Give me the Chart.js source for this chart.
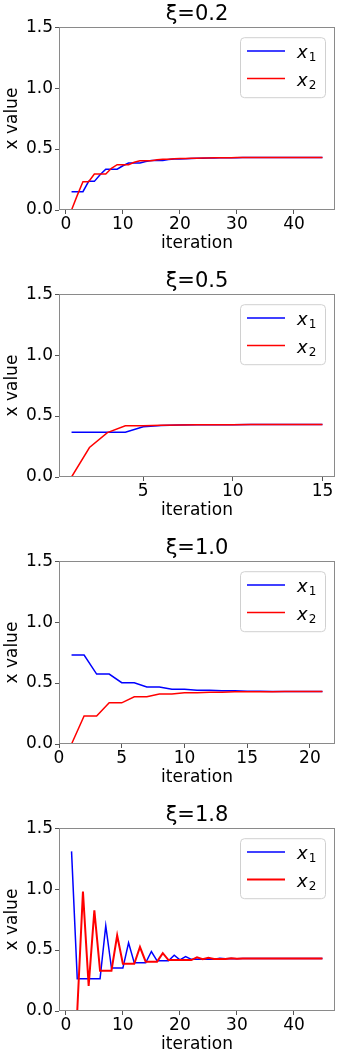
<!DOCTYPE html>
<html>
<head>
<meta charset="utf-8">
<script src="https://cdn.jsdelivr.net/npm/chart.js@4.4.1/dist/chart.umd.min.js"></script>
<style>
  html, body { margin: 0; padding: 0; background: #fff; overflow: hidden; }
  .panel { position: absolute; left: 0; width: 340px; height: 267px; }
  canvas { display: block; }
</style>
</head>
<body>
<div class="panel" style="top:0px"><canvas id="c0" width="340" height="267"></canvas></div>
<div class="panel" style="top:267px"><canvas id="c1" width="340" height="267"></canvas></div>
<div class="panel" style="top:534px"><canvas id="c2" width="340" height="267"></canvas></div>
<div class="panel" style="top:801px"><canvas id="c3" width="340" height="267"></canvas></div>
<script>
// iterations
const iter15 = [1,2,3,4,5,6,7,8,9,10,11,12,13,14,15];
const iter21 = [1,2,3,4,5,6,7,8,9,10,11,12,13,14,15,16,17,18,19,20,21];
const iter45 = [1,2,3,4,5,6,7,8,9,10,11,12,13,14,15,16,17,18,19,20,21,22,23,24,25,26,27,28,29,30,
                31,32,33,34,35,36,37,38,39,40,41,42,43,44,45];

// xi = 0.2
const x1Xi02 = [0.15,0.15,0.15,0.235,0.235,0.29,0.335,0.335,0.335,0.363,0.385,0.385,0.385,0.398,0.407,
                0.407,0.407,0.414,0.419,0.419,0.421,0.423,0.424,0.425,0.426,0.427,0.428,0.428,0.429,0.429,
                0.43,0.43,0.43,0.43,0.43,0.43,0.43,0.43,0.43,0.43,0.43,0.43,0.43,0.43,0.43];
const x2Xi02 = [0,0.12,0.232,0.232,0.295,0.295,0.295,0.342,0.372,0.372,0.372,0.392,0.404,0.404,0.404,
                0.412,0.417,0.417,0.42,0.422,0.423,0.424,0.425,0.426,0.427,0.428,0.428,0.429,0.429,0.43,
                0.43,0.43,0.43,0.43,0.43,0.43,0.43,0.43,0.43,0.43,0.43,0.43,0.43,0.43,0.43];
// xi = 0.5
const x1Xi05 = [0.368,0.368,0.368,0.368,0.412,0.423,0.426,0.428,0.429,0.429,0.43,0.43,0.43,0.43,0.43];
const x2Xi05 = [0,0.242,0.364,0.421,0.421,0.424,0.426,0.428,0.429,0.429,0.43,0.43,0.43,0.43,0.43];
// xi = 1.0
const x1Xi10 = [0.73,0.73,0.574,0.574,0.503,0.503,0.468,0.468,0.449,0.449,0.441,0.441,0.436,0.436,0.433,
                0.433,0.431,0.431,0.43,0.43,0.43];
const x2Xi10 = [0,0.23,0.23,0.338,0.338,0.388,0.388,0.41,0.41,0.42,0.42,0.425,0.425,0.428,0.428,
                0.429,0.429,0.43,0.43,0.43,0.43];
// xi = 1.8
const x1Xi18 = [1.31,0.265,0.265,0.265,0.265,0.265,0.70,0.352,0.352,0.352,0.56,0.395,0.395,0.395,0.488,
                0.412,0.412,0.412,0.458,0.42,0.447,0.424,0.424,0.424,0.424,0.424,0.433,0.428,0.431,0.429,
                0.43,0.43,0.43,0.43,0.43,0.43,0.43,0.43,0.43,0.43,0.43,0.43,0.43,0.43,0.43];
const x2Xi18 = [0,0,0.98,0.205,0.826,0.33,0.33,0.33,0.62,0.388,0.388,0.388,0.525,0.405,0.405,
                0.405,0.475,0.418,0.418,0.418,0.418,0.418,0.44,0.425,0.437,0.427,0.427,0.427,0.432,0.429,
                0.43,0.43,0.43,0.43,0.43,0.43,0.43,0.43,0.43,0.43,0.43,0.43,0.43,0.43,0.43];

const titles = ['ξ=0.2', 'ξ=0.5', 'ξ=1.0', 'ξ=1.8'];
const xTicksWide = [0, 10, 20, 30, 40];
const xTicksXi05 = [5, 10, 15];
const xTicksXi10 = [0, 5, 10, 15, 20];
const yTickValues = [0, 0.5, 1.0, 1.5];
const legendMain = 'x';
const legendSubs = ['1', '2'];

Chart.defaults.font.family = 'DejaVu Sans';
Chart.defaults.color = '#000';

const panels = [
    { iters: iter45, x1: x1Xi02, x2: x2Xi02, xTicks: xTicksWide, xMin: -1.2, xMax: 47.2 },
    { iters: iter15, x1: x1Xi05, x2: x2Xi05, xTicks: xTicksXi05, xMin: 0.3, xMax: 15.7 },
    { iters: iter21, x1: x1Xi10, x2: x2Xi10, xTicks: xTicksXi10, xMin: 0, xMax: 22 },
    { iters: iter45, x1: x1Xi18, x2: x2Xi18, xTicks: xTicksWide, xMin: -1.2, xMax: 47.2 }
];

const toPoints = (xs, ys) => xs.map((x, i) => ({ x: x, y: ys[i] }));

// box around the plot area (all four spines)
const framePlugin = {
    id: 'frame',
    afterDatasetsDraw(chart) {
        const { ctx, chartArea: a } = chart;
        ctx.save();
        ctx.strokeStyle = '#8a8a8a';
        ctx.lineWidth = 1;
        ctx.strokeRect(Math.round(a.left) + 0.5, Math.round(a.top) + 0.5,
                       Math.round(a.right - a.left) - 1, Math.round(a.bottom - a.top) - 1);
        ctx.restore();
    }
};

// matplotlib style legend in upper right corner
const legendPlugin = {
    id: 'mplLegend',
    afterDraw(chart) {
        const { ctx, chartArea: a } = chart;
        const bx = a.right - 95, by = a.top + 10, bw = 85, bh = 60;
        ctx.save();
        ctx.beginPath();
        ctx.roundRect(bx + 0.5, by + 0.5, bw, bh, 4);
        ctx.fillStyle = 'rgba(255,255,255,0.8)';
        ctx.fill();
        ctx.strokeStyle = '#d0d0d0';
        ctx.lineWidth = 1;
        ctx.stroke();
        chart.data.datasets.forEach((ds, i) => {
            const ly = by + 13.7 + i * 27.6;
            ctx.beginPath();
            ctx.moveTo(bx + 7, ly);
            ctx.lineTo(bx + 45, ly);
            ctx.strokeStyle = ds.borderColor;
            ctx.lineWidth = ds.borderWidth;
            ctx.stroke();
            ctx.fillStyle = '#000';
            ctx.textBaseline = 'alphabetic';
            ctx.textAlign = 'left';
            ctx.font = 'italic 18px "DejaVu Sans"';
            ctx.fillText(legendMain, bx + 57, ly + 7.5);
            const w = ctx.measureText(legendMain).width;
            ctx.font = '12px "DejaVu Sans"';
            ctx.fillText(legendSubs[i], bx + 57 + w + 1, ly + 10.3);
        });
        ctx.restore();
    }
};

panels.forEach((p, idx) => {
    new Chart(document.getElementById('c' + idx), {
        type: 'line',
        data: {
            datasets: [{
                label: 'x₁',
                data: toPoints(p.iters, p.x1),
                borderColor: '#0000ff',
                borderWidth: 1.5,
                pointRadius: 0,
                tension: 0,
                fill: false,
                order: 1
            }, {
                label: 'x₂',
                data: toPoints(p.iters, p.x2),
                borderColor: '#ff0000',
                borderWidth: idx === 3 ? 2 : 1.5,
                pointRadius: 0,
                tension: 0,
                fill: false,
                order: 0
            }]
        },
        options: {
            responsive: false,
            animation: false,
            layout: { padding: { left: 0, right: 5, top: 0, bottom: 0 } },
            plugins: {
                legend: { display: false },
                tooltip: { enabled: false },
                title: {
                    display: true,
                    text: titles[idx],
                    fullSize: false,
                    font: { size: 21, weight: 'normal' },
                    color: '#000',
                    padding: { top: 2, bottom: 0 }
                }
            },
            scales: {
                x: {
                    type: 'linear',
                    min: p.xMin,
                    max: p.xMax,
                    afterFit: s => { s.height = 57; },
                    afterBuildTicks: s => { s.ticks = p.xTicks.map(v => ({ value: v })); },
                    ticks: {
                        font: { size: 17, lineHeight: 1.1 },
                        color: '#000',
                        padding: 1,
                        maxRotation: 0,
                        callback: v => String(v)
                    },
                    grid: { drawOnChartArea: false, tickLength: 4, tickColor: '#555' },
                    border: { display: false },
                    title: {
                        display: true,
                        text: 'iteration',
                        font: { size: 17 },
                        color: '#000',
                        padding: { top: 0, bottom: 13.5 }
                    }
                },
                y: {
                    min: 0,
                    max: 1.5,
                    afterFit: s => { s.width = 59; },
                    afterBuildTicks: s => { s.ticks = yTickValues.map(v => ({ value: v })); },
                    ticks: {
                        font: { size: 17 },
                        color: '#000',
                        padding: 2,
                        callback: v => v.toFixed(1)
                    },
                    grid: { drawOnChartArea: false, tickLength: 4, tickColor: '#555' },
                    border: { display: false },
                    title: {
                        display: true,
                        text: 'x value',
                        font: { size: 17 },
                        color: '#000',
                        padding: { top: 2, bottom: 0 }
                    }
                }
            }
        },
        plugins: [framePlugin, legendPlugin]
    });
});
</script>
</body>
</html>
